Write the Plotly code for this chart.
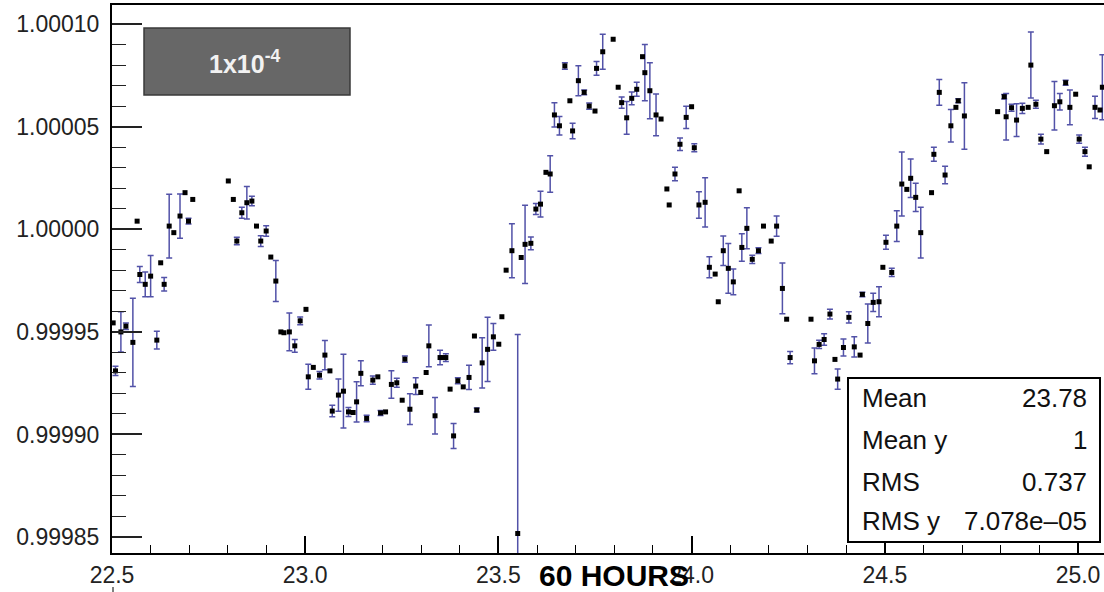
import plotly.graph_objects as go

# ---- data ----
hours = [
    22.503, 22.509, 22.523, 22.536, 22.554, 22.565, 22.572, 22.586, 22.600, 22.616,
    22.626, 22.635, 22.648, 22.660, 22.676, 22.689, 22.698, 22.709, 22.801, 22.814,
    22.823, 22.836, 22.849, 22.862, 22.874, 22.885, 22.899, 22.911, 22.924, 22.937,
    22.945, 22.959, 22.973, 22.987, 23.002, 23.008, 23.021, 23.037, 23.051, 23.064,
    23.070, 23.086, 23.099, 23.112, 23.124, 23.133, 23.144, 23.159, 23.175, 23.188,
    23.195, 23.208, 23.223, 23.237, 23.251, 23.258, 23.271, 23.286, 23.299, 23.313,
    23.320, 23.336, 23.349, 23.356, 23.364, 23.375, 23.384, 23.395, 23.409, 23.424,
    23.438, 23.444, 23.458, 23.472, 23.487, 23.501, 23.509, 23.520, 23.535, 23.550,
    23.559, 23.569, 23.584, 23.597, 23.609, 23.623, 23.634, 23.645, 23.658, 23.672,
    23.685, 23.692, 23.707, 23.722, 23.735, 23.750, 23.754, 23.770, 23.797, 23.810,
    23.819, 23.832, 23.845, 23.858, 23.873, 23.879, 23.892, 23.908, 23.921, 23.936,
    23.942, 23.957, 23.970, 23.986, 24.000, 24.007, 24.019, 24.035, 24.046, 24.061,
    24.069, 24.082, 24.095, 24.108, 24.123, 24.130, 24.143, 24.157, 24.173, 24.186,
    24.206, 24.220, 24.235, 24.246, 24.255, 24.309, 24.318, 24.330, 24.343, 24.358,
    24.371, 24.378, 24.393, 24.407, 24.421, 24.436, 24.442, 24.456, 24.470, 24.485,
    24.495, 24.503, 24.518, 24.531, 24.544, 24.557, 24.567, 24.580, 24.593, 24.621,
    24.627, 24.641, 24.656, 24.671, 24.684, 24.690, 24.706, 24.792, 24.809, 24.814,
    24.828, 24.841, 24.856, 24.871, 24.878, 24.891, 24.904, 24.919, 24.939, 24.953,
    24.968, 24.979, 24.994, 25.003, 25.018, 25.029, 25.044, 25.057, 25.063,
]

ratio = [
    0.9999544, 0.9999310, 0.9999500, 0.9999528, 0.9999449, 1.0000040, 0.9999780, 0.9999732, 0.9999772, 0.9999460,
    0.9999837, 0.9999732, 1.0000016, 0.9999984, 1.0000065, 1.0000179, 1.0000040, 1.0000146, 1.0000236, 1.0000146,
    0.9999943, 1.0000081, 1.0000130, 1.0000138, 1.0000016, 0.9999943, 0.9999992, 0.9999865, 0.9999748, 0.9999500,
    0.9999496, 0.9999500, 0.9999432, 0.9999554, 0.9999610, 0.9999281, 0.9999327, 0.9999289, 0.9999387, 0.9999310,
    0.9999114, 0.9999192, 0.9999211, 0.9999110, 0.9999107, 0.9999159, 0.9999298, 0.9999078, 0.9999265, 0.9999281,
    0.9999105, 0.9999110, 0.9999244, 0.9999252, 0.9999167, 0.9999367, 0.9999123, 0.9999236, 0.9999205, 0.9999302,
    0.9999432, 0.9999091, 0.9999375, 0.9999375, 0.9999375, 0.9999221, 0.9998993, 0.9999262, 0.9999232, 0.9999278,
    0.9999480, 0.9999119, 0.9999349, 0.9999415, 0.9999476, 0.9999440, 0.9999574, 0.9999801, 0.9999896, 0.9998517,
    0.9999863, 0.9999927, 0.9999932, 1.0000099, 1.0000123, 1.0000278, 1.0000270, 1.0000558, 1.0000505, 1.0000797,
    1.0000627, 1.0000480, 1.0000725, 1.0000668, 1.0000601, 1.0000577, 1.0000785, 1.0000866, 1.0000927, 1.0000693,
    1.0000618, 1.0000544, 1.0000639, 1.0000683, 1.0000842, 1.0000764, 1.0000676, 1.0000558, 1.0000538, 1.0000197,
    1.0000119, 1.0000270, 1.0000415, 1.0000546, 1.0000598, 1.0000398, 1.0000119, 1.0000132, 0.9999815, 0.9999782,
    0.9999647, 0.9999896, 0.9999810, 0.9999744, 1.0000188, 0.9999912, 1.0000005, 0.9999854, 0.9999896, 1.0000016,
    0.9999943, 1.0000016, 0.9999712, 0.9999562, 0.9999375, 0.9999562, 0.9999359, 0.9999439, 0.9999463, 0.9999587,
    0.9999366, 0.9999270, 0.9999424, 0.9999571, 0.9999427, 0.9999387, 0.9999683, 0.9999541, 0.9999644, 0.9999647,
    0.9999815, 0.9999937, 0.9999790, 1.0000016, 1.0000221, 1.0000195, 1.0000249, 1.0000156, 0.9999984, 1.0000179,
    1.0000366, 1.0000668, 1.0000265, 1.0000505, 1.0000595, 1.0000627, 1.0000553, 1.0000574, 1.0000647, 1.0000549,
    1.0000593, 1.0000533, 1.0000590, 1.0000595, 1.0000801, 1.0000610, 1.0000440, 1.0000379, 1.0000603, 1.0000622,
    1.0000715, 1.0000595, 1.0000659, 1.0000440, 1.0000379, 1.0000305, 1.0000595, 1.0000582, 1.0000693,
]

ratio_err = [
    0.0, 2.3e-6, 9.8e-6, 1.6e-6, 2.15e-5, 0.0, 3.9e-6, 6.0e-6, 1.0e-5, 4.3e-6,
    0.0, 3.3e-6, 1.55e-5, 0.0, 1.08e-5, 0.0, 1.4e-6, 0.0, 0.0, 0.0,
    1.8e-6, 2.7e-6, 7.9e-6, 2.3e-6, 0.0, 2.6e-6, 2.6e-6, 0.0, 1.0e-5, 0.0,
    0.0, 9.2e-6, 3.1e-6, 1.9e-6, 0.0, 6.1e-6, 0.0, 1.8e-6, 7.1e-6, 0.0,
    2.8e-6, 7.9e-6, 1.8e-5, 2.2e-6, 0.0, 9.8e-6, 6.1e-6, 1.6e-6, 2.0e-6, 0.0,
    1.2e-6, 0.0, 6.7e-6, 2.2e-6, 0.0, 1.5e-6, 7.5e-6, 4.1e-6, 0.0, 0.0,
    1.02e-5, 8.9e-6, 3.5e-6, 0.0, 1.9e-6, 0.0, 6.1e-6, 1.5e-6, 0.0, 5.9e-6,
    0.0, 1.0e-6, 1.22e-5, 1.57e-5, 6.5e-6, 0.0, 0.0, 0.0, 1.32e-5, 9.7e-5,
    0.0, 1.91e-5, 3.1e-6, 2.7e-6, 6.3e-6, 0.0, 8.9e-6, 5.9e-6, 4.5e-6, 1.6e-6,
    0.0, 3.8e-6, 7.3e-6, 1.2e-6, 1.5e-6, 0.0, 3.3e-6, 8.5e-6, 0.0, 0.0,
    2.7e-6, 8.0e-6, 3.1e-6, 3.4e-6, 0.0, 1.37e-5, 1.37e-5, 1.02e-5, 0.0, 0.0,
    0.0, 3.3e-6, 3.0e-6, 5.4e-6, 0.0, 2.0e-6, 6.5e-6, 1.2e-5, 5.1e-6, 0.0,
    0.0, 7.2e-6, 1.21e-5, 6.3e-6, 0.0, 6.7e-6, 1.0e-5, 2.0e-6, 1.4e-6, 0.0,
    0.0, 4.9e-6, 1.24e-5, 0.0, 3.0e-6, 0.0, 6.3e-6, 2.0e-6, 2.8e-6, 2.4e-6,
    0.0, 4.9e-6, 4.1e-6, 2.7e-6, 4.9e-6, 0.0, 1.1e-6, 9.5e-6, 4.5e-6, 7.3e-6,
    0.0, 3.4e-6, 2.0e-6, 7.5e-6, 1.56e-5, 0.0, 9.4e-6, 6.9e-6, 1.24e-5, 0.0,
    3.4e-6, 6.3e-6, 4.3e-6, 7.9e-6, 0.0, 1.0e-6, 1.62e-5, 0.0, 1.1e-6, 1.13e-5,
    1.7e-6, 8.0e-6, 2.5e-6, 0.0, 1.61e-5, 2.0e-6, 2.4e-6, 0.0, 1.18e-5, 4.0e-6,
    1.2e-6, 8.5e-6, 0.0, 2.0e-6, 2.2e-6, 0.0, 5.4e-6, 0.0, 1.59e-5,
]

stat_labels = ["Mean", "Mean y", "RMS", "RMS y"]
stat_values = ["23.78", "1", "0.737", "7.078e\u201305"]
x_title = "60 HOURS"
scale_label = "1x10<sup>-4</sup>"

# ---- figure ----
W, H = 1104, 592
ML, MR, MT, MB = 112, 0, 5, 39
PW, PH = W - ML - MR, H - MT - MB


def px_x(p):
    return (p - ML) / PW


def px_y(p):
    return (H - MB - p) / PH


with_err = [i for i, e in enumerate(ratio_err) if e > 0]
no_err = [i for i, e in enumerate(ratio_err) if e <= 0]

fig = go.Figure()
fig.add_trace(go.Scatter(
    x=[hours[i] for i in with_err],
    y=[ratio[i] for i in with_err],
    mode="markers",
    marker=dict(symbol="square", size=5, color="black"),
    error_y=dict(type="data", array=[ratio_err[i] for i in with_err],
                 visible=True, color="#5252a8", thickness=1.5, width=3),
    showlegend=False,
))
fig.add_trace(go.Scatter(
    x=[hours[i] for i in no_err],
    y=[ratio[i] for i in no_err],
    mode="markers",
    marker=dict(symbol="square", size=5, color="black"),
    showlegend=False,
))

tick_font = dict(family="Liberation Sans, Arial, sans-serif", size=23, color="#222222")

fig.update_xaxes(
    range=[22.5, 22.5 + 2.5 * PW / 966.0],
    showgrid=False, zeroline=False,
    showline=True, linecolor="black", linewidth=2, mirror=True,
    ticks="inside", ticklen=17, tickwidth=1.5, tickcolor="black",
    tick0=22.5, dtick=0.5, tickformat=".1f", tickfont=tick_font,
    ticklabelstandoff=0,
    minor=dict(dtick=0.1, tick0=22.5, ticks="inside", ticklen=8,
               tickwidth=1.2, tickcolor="black", showgrid=False),
)
fig.update_yaxes(
    range=[0.9998422, 1.0001094],
    showgrid=False, zeroline=False,
    showline=True, linecolor="black", linewidth=2, mirror=False,
    ticks="inside", ticklen=30, tickwidth=1.5, tickcolor="#222222",
    tick0=1.0, dtick=5e-5, tickformat=".5f", tickfont=tick_font,
    ticklabelstandoff=6,
    minor=dict(dtick=1e-5, tick0=1.0, ticks="inside", ticklen=14,
               tickwidth=1.2, tickcolor="#222222", showgrid=False),
)

shapes = [
    # scale box
    dict(type="rect", xref="paper", yref="paper",
         x0=px_x(144), x1=px_x(350), y0=px_y(95), y1=px_y(28),
         fillcolor="#676767", line=dict(color="#3a3a3a", width=1.5), layer="above"),
    # stats box
    dict(type="rect", xref="paper", yref="paper",
         x0=px_x(848), x1=px_x(1100), y0=px_y(542), y1=px_y(378),
         fillcolor="white", line=dict(color="black", width=2), layer="above"),
    # small mark below the axis
    dict(type="line", xref="paper", yref="paper",
         x0=px_x(113), x1=px_x(113), y0=px_y(587), y1=px_y(592),
         line=dict(color="black", width=1)),
]

annotations = [
    dict(text=scale_label, xref="paper", yref="paper",
         x=px_x(244), y=px_y(62), xanchor="center", yanchor="middle",
         showarrow=False,
         font=dict(family="Liberation Sans, Arial, sans-serif", size=25,
                   color="#f2f2f2", weight="bold")),
    dict(text=x_title, xref="paper", yref="paper",
         x=px_x(614), y=px_y(575), xanchor="center", yanchor="middle",
         showarrow=False,
         font=dict(family="Liberation Sans, Arial, sans-serif", size=30,
                   color="black", weight="bold")),
]

row_y = [398, 440, 482, 521]
stat_font = dict(family="Liberation Sans, Arial, sans-serif", size=26, color="#111111")
for lab, val, ry in zip(stat_labels, stat_values, row_y):
    annotations.append(dict(text=lab, xref="paper", yref="paper",
                            x=px_x(860), y=px_y(ry), xanchor="left", yanchor="middle",
                            showarrow=False, font=stat_font))
    annotations.append(dict(text=val, xref="paper", yref="paper",
                            x=px_x(1089), y=px_y(ry), xanchor="right", yanchor="middle",
                            showarrow=False, font=stat_font))

fig.update_layout(
    width=W, height=H,
    margin=dict(l=ML, r=MR, t=MT, b=MB, pad=0),
    paper_bgcolor="white", plot_bgcolor="white",
    shapes=shapes, annotations=annotations,
    showlegend=False,
)

fig.write_html("out.html")
